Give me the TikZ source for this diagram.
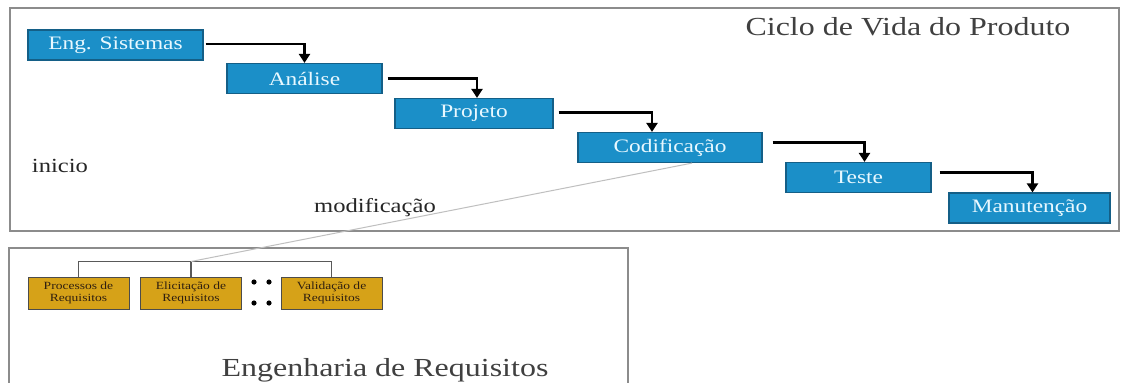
\documentclass[tikz,border=0pt]{standalone}
\usepackage{fontspec}
\setmainfont{Liberation Serif}[FakeStretch=1.23]
\usetikzlibrary{arrows.meta,calc}
\definecolor{boxblue}{RGB}{27,143,200}
\definecolor{boxedge}{RGB}{20,95,135}
\definecolor{gold}{RGB}{214,162,24}
\definecolor{boxtext}{RGB}{232,248,255}
\definecolor{framegray}{RGB}{140,140,140}
\begin{document}
\begin{tikzpicture}[x=1pt,y=-1pt,
  phase/.style={draw=boxedge, line width=1.2pt, fill=boxblue, text=boxtext,
    font=\fontsize{19}{22}\selectfont, minimum height=30, inner sep=0pt},
  sub/.style={draw=black!70, line width=1pt, fill=gold, text=black!75!brown,
    font=\fontsize{11}{12.5}\selectfont, align=center, minimum width=101,
    minimum height=32, inner sep=0pt},
  flow/.style={line width=2.4pt, -{Triangle[width=11pt,length=9pt]}},
  frame/.style={draw=framegray, line width=2pt},
  plain/.style={font=\fontsize{20}{24}\selectfont, text=black!85},
  big/.style={font=\fontsize{26}{30}\selectfont, text=black!75},
  tree/.style={draw=black!65, line width=1.3pt},
  link/.style={draw=black!25, line width=1pt}]
\useasboundingbox (0,0) rectangle (1125,383);
\fill[white] (0,0) rectangle (1125,383);
% frames
\draw[frame] (10,8) rectangle (1119,231);
\draw[frame] (9,248) rectangle (628,392);
% phases
\node[phase, minimum width=175] (eng) at (115.5,45) {Eng. Sistemas};
\node[phase, minimum width=155] (ana) at (304.5,78.5) {Análise};
\node[phase, minimum width=158] (proj) at (474,113.5) {Projeto};
\node[phase, minimum width=184] (cod) at (670,147.5) {Codificação};
\node[phase, minimum width=145] (tes) at (858.5,177.5) {Teste};
\node[phase, minimum width=161] (man) at (1029.5,208) {Manutenção};
% arrows
\draw[flow] ($(eng.east)+(2,-1)$) -| (ana.north);
\draw[flow] ($(ana.east)+(5,0)$) -| ($(proj.north)+(3,0)$);
\draw[flow] ($(proj.east)+(5,-1)$) -| ($(cod.north)+(-18,0)$);
\draw[flow] ($(cod.east)+(10,-5)$) -| ($(tes.north)+(6,0)$);
\draw[flow] ($(tes.east)+(8,-5)$) -| ($(man.north)+(3,0)$);
% labels
\node[big] (title) at (908,27) {Ciclo de Vida do Produto};
\node[plain] (ini) at (60,166) {inicio};
\node[plain] (mod) at (375,208) {modificação};
\node[big] (er) at (385,370) {Engenharia de Requisitos};
% sub process boxes
\node[sub] (proc) at (78.5,293) {Processos de\\Requisitos};
\node[sub] (elic) at (191,293) {Elicitação de\\Requisitos};
\node[sub] (val) at (331.5,293) {Validação de\\Requisitos};
\coordinate (junc) at ($(elic.north)+(0,-15)$);
\draw[tree] (proc.north) -- ++(0,-15) -| (val.north);
\draw[tree] (elic.north) -- (junc);
\draw[link] ($(cod.south)+(22,0)$) -- (junc);
% dots
\foreach \dx/\dy [count=\i] in {254/282,269/282,254/303,269/303}
  \fill[black] (\dx,\dy) circle (2.6);
\end{tikzpicture}
\end{document}
